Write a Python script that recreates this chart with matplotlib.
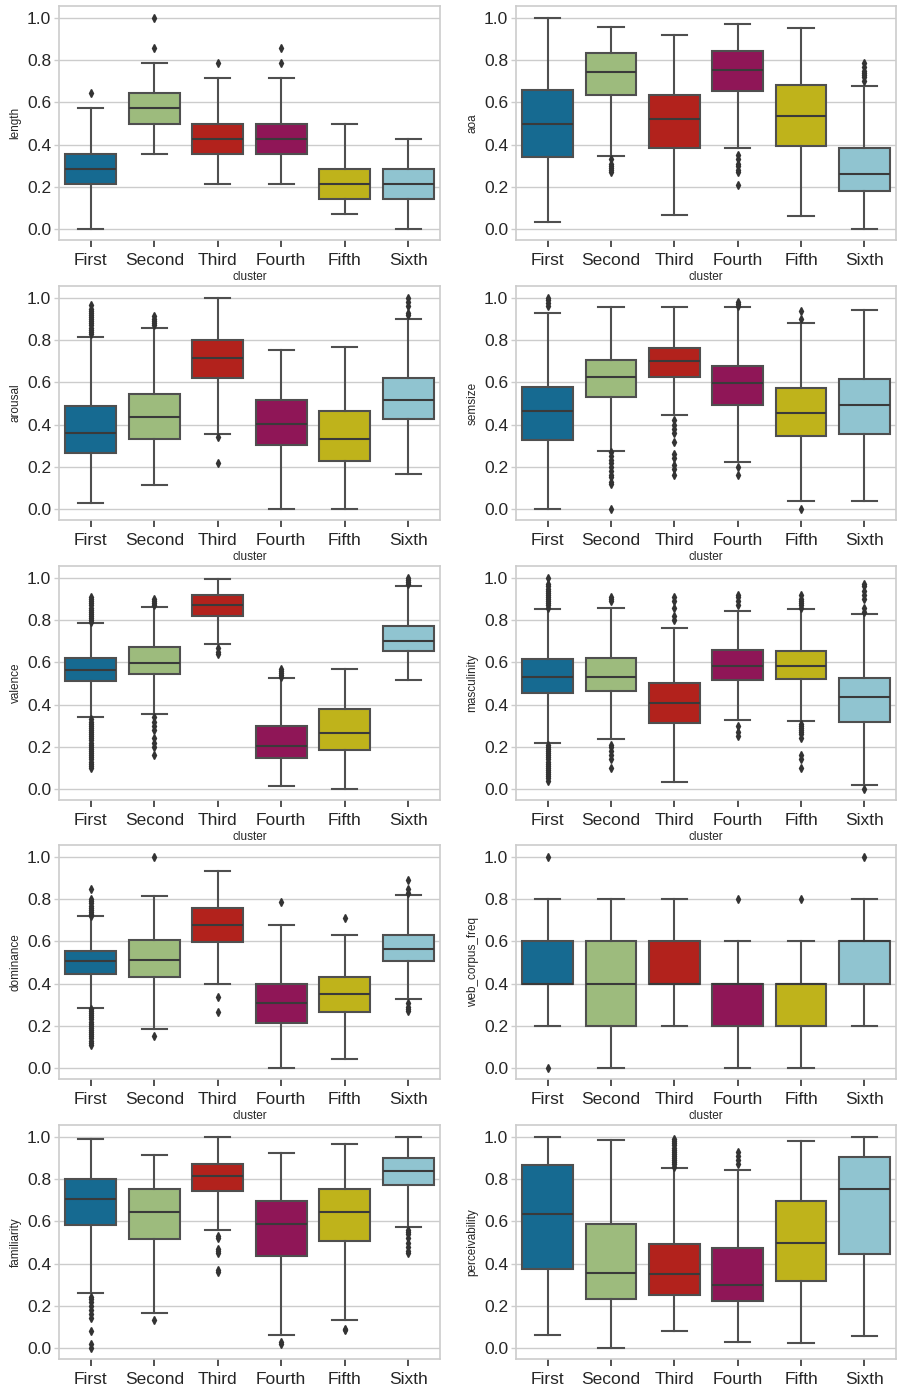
import numpy as np
import matplotlib
matplotlib.use("Agg")
import matplotlib.pyplot as plt

# clusters and colors
clusters = ["First", "Second", "Third", "Fourth", "Fifth", "Sixth"]
colors = ["#166a91", "#9dbb7d", "#b2221c", "#8f1657", "#bfb31b", "#90c4d0"]

# box stats per cluster: (whislo, q1, med, q3, whishi)
length_box = [(0.0, 0.2143, 0.2857, 0.3571, 0.5714), (0.3571, 0.5, 0.5714, 0.6429, 0.7857),
              (0.2143, 0.3571, 0.4286, 0.5, 0.7143), (0.2143, 0.3571, 0.4286, 0.5, 0.7143),
              (0.0714, 0.1429, 0.2143, 0.2857, 0.5), (0.0, 0.1429, 0.2143, 0.2857, 0.4286)]
length_fliers = [[0.6429], [0.8571, 1.0], [0.7857], [0.7857, 0.8571], [], []]

aoa_box = [(0.035, 0.343, 0.5, 0.659, 1.0), (0.348, 0.635, 0.746, 0.834, 0.959),
           (0.066, 0.385, 0.523, 0.635, 0.921), (0.385, 0.656, 0.754, 0.844, 0.972),
           (0.062, 0.392, 0.536, 0.681, 0.953), (0.0, 0.182, 0.261, 0.384, 0.678)]
aoa_fliers = [[], [0.33, 0.31, 0.30, 0.29, 0.28, 0.27],
              [], [0.35, 0.33, 0.31, 0.30, 0.28, 0.27, 0.21],
              [], [0.785, 0.77, 0.75, 0.74, 0.73, 0.72, 0.70]]

arousal_box = [(0.030, 0.266, 0.359, 0.487, 0.813), (0.113, 0.332, 0.436, 0.543, 0.860),
               (0.356, 0.619, 0.718, 0.803, 1.0), (0.0, 0.304, 0.402, 0.517, 0.756),
               (0.0, 0.227, 0.331, 0.466, 0.767), (0.167, 0.427, 0.517, 0.619, 0.902)]
arousal_fliers = [[0.83, 0.84, 0.85, 0.86, 0.87, 0.88, 0.89, 0.90, 0.91, 0.92, 0.93, 0.94, 0.95, 0.965],
                  [0.87, 0.88, 0.89, 0.90, 0.915], [0.34, 0.22], [], [],
                  [0.92, 0.93, 0.96, 0.98, 1.0]]

semsize_box = [(0.0, 0.326, 0.463, 0.576, 0.931), (0.276, 0.531, 0.625, 0.704, 0.956),
               (0.444, 0.628, 0.701, 0.765, 0.956), (0.224, 0.493, 0.597, 0.676, 0.956),
               (0.039, 0.346, 0.454, 0.572, 0.880), (0.039, 0.356, 0.493, 0.614, 0.945)]
semsize_fliers = [[0.96, 0.975, 0.99, 1.0],
                  [0.27, 0.25, 0.23, 0.22, 0.20, 0.18, 0.16, 0.15, 0.13, 0.12, 0.0],
                  [0.42, 0.40, 0.38, 0.36, 0.32, 0.26, 0.24, 0.21, 0.19, 0.16],
                  [0.20, 0.16, 0.96, 0.97, 0.98], [0.90, 0.94, 0.0], []]

valence_box = [(0.342, 0.512, 0.565, 0.619, 0.786), (0.354, 0.543, 0.597, 0.671, 0.861),
               (0.687, 0.822, 0.871, 0.918, 0.997), (0.014, 0.146, 0.205, 0.299, 0.526),
               (0.0, 0.186, 0.266, 0.378, 0.569), (0.517, 0.654, 0.701, 0.773, 0.961)]
valence_fliers = [[0.79, 0.80, 0.81, 0.82, 0.83, 0.84, 0.85, 0.86, 0.87, 0.88, 0.89, 0.90, 0.91,
                   0.33, 0.32, 0.31, 0.30, 0.29, 0.28, 0.27, 0.26, 0.25, 0.24, 0.23, 0.22,
                   0.21, 0.20, 0.19, 0.18, 0.17, 0.16, 0.15, 0.14, 0.13, 0.12, 0.11, 0.10],
                  [0.87, 0.88, 0.89, 0.90, 0.34, 0.32, 0.30, 0.28, 0.24, 0.22, 0.20, 0.16],
                  [0.67, 0.65, 0.64], [0.53, 0.54, 0.55, 0.56, 0.57], [],
                  [0.97, 0.98, 0.99, 1.0]]

masculinity_box = [(0.219, 0.454, 0.529, 0.614, 0.852), (0.238, 0.466, 0.529, 0.619, 0.857),
                   (0.035, 0.313, 0.408, 0.501, 0.765), (0.328, 0.517, 0.581, 0.657, 0.846),
                   (0.323, 0.521, 0.581, 0.654, 0.852), (0.019, 0.318, 0.436, 0.526, 0.828)]
masculinity_fliers = [[0.86, 0.87, 0.88, 0.89, 0.90, 0.91, 0.92, 0.93, 0.94, 0.95, 0.96, 0.97, 1.0,
                       0.21, 0.20, 0.19, 0.18, 0.17, 0.16, 0.15, 0.14, 0.13, 0.12, 0.11, 0.10,
                       0.09, 0.08, 0.07, 0.06, 0.05, 0.04],
                      [0.89, 0.90, 0.91, 0.21, 0.20, 0.18, 0.16, 0.14, 0.10],
                      [0.80, 0.82, 0.86, 0.89, 0.91],
                      [0.87, 0.89, 0.91, 0.92, 0.30, 0.27, 0.25],
                      [0.86, 0.87, 0.88, 0.89, 0.90, 0.92, 0.31, 0.30, 0.29, 0.28, 0.27, 0.26,
                       0.24, 0.16, 0.14, 0.10],
                      [0.84, 0.86, 0.90, 0.92, 0.94, 0.96, 0.97, 0.0]]

dominance_box = [(0.286, 0.445, 0.506, 0.555, 0.720), (0.187, 0.432, 0.513, 0.607, 0.814),
                 (0.399, 0.597, 0.678, 0.758, 0.932), (0.0, 0.215, 0.310, 0.398, 0.678),
                 (0.041, 0.264, 0.352, 0.432, 0.630), (0.329, 0.509, 0.564, 0.632, 0.819)]
dominance_fliers = [[0.72, 0.73, 0.74, 0.75, 0.76, 0.77, 0.78, 0.79, 0.80, 0.85,
                     0.28, 0.27, 0.26, 0.25, 0.24, 0.23, 0.22, 0.21, 0.20, 0.19, 0.18, 0.17,
                     0.16, 0.15, 0.14, 0.13, 0.12, 0.11],
                    [0.15, 1.0], [0.335, 0.265], [0.785], [0.712],
                    [0.83, 0.85, 0.89, 0.31, 0.29, 0.28, 0.27]]

web_box = [(0.2, 0.4, 0.4, 0.6, 0.8), (0.0, 0.2, 0.4, 0.6, 0.8),
           (0.2, 0.4, 0.4, 0.6, 0.8), (0.0, 0.2, 0.4, 0.4, 0.6),
           (0.0, 0.2, 0.4, 0.4, 0.6), (0.2, 0.4, 0.6, 0.6, 0.8)]
web_fliers = [[0.0, 1.0], [], [], [0.8], [0.8], [1.0]]

familiarity_box = [(0.262, 0.582, 0.708, 0.802, 0.992), (0.168, 0.516, 0.644, 0.752, 0.917),
                   (0.559, 0.743, 0.813, 0.870, 1.0), (0.060, 0.436, 0.586, 0.699, 0.926),
                   (0.135, 0.509, 0.645, 0.755, 0.967), (0.573, 0.772, 0.841, 0.900, 1.0)]
familiarity_fliers = [[0.24, 0.23, 0.22, 0.20, 0.18, 0.16, 0.14, 0.08, 0.02, 0.0],
                      [0.135], [0.53, 0.52, 0.47, 0.46, 0.45, 0.37, 0.36],
                      [0.03, 0.02], [0.09, 0.085],
                      [0.56, 0.55, 0.54, 0.52, 0.50, 0.48, 0.46, 0.45]]

perceivability_box = [(0.063, 0.374, 0.637, 0.868, 1.0), (0.0, 0.232, 0.355, 0.587, 0.984),
                      (0.082, 0.251, 0.350, 0.495, 0.854), (0.030, 0.221, 0.300, 0.476, 0.845),
                      (0.025, 0.320, 0.499, 0.697, 0.981), (0.058, 0.444, 0.755, 0.906, 1.0)]
perceivability_fliers = [[], [], [0.86, 0.87, 0.88, 0.89, 0.90, 0.91, 0.92, 0.93, 0.94, 0.95,
                                  0.96, 0.97, 0.98, 0.99], [0.87, 0.89, 0.91, 0.93], [], []]

panels = [("length", length_box, length_fliers), ("aoa", aoa_box, aoa_fliers),
          ("arousal", arousal_box, arousal_fliers), ("semsize", semsize_box, semsize_fliers),
          ("valence", valence_box, valence_fliers), ("masculinity", masculinity_box, masculinity_fliers),
          ("dominance", dominance_box, dominance_fliers), ("web_corpus_freq", web_box, web_fliers),
          ("familiarity", familiarity_box, familiarity_fliers),
          ("perceivability", perceivability_box, perceivability_fliers)]

plt.rcParams['font.family'] = ['Liberation Sans', 'DejaVu Sans']
gray = "#4f4f4f"

fig = plt.figure(figsize=(9.14, 13.89), dpi=100)
W, H = 914.0, 1389.0
lefts = [59, 516]
widths = [381, 380]
tops = [6, 286, 566, 845, 1125]
ax_h = 234

for i, (name, box, fliers) in enumerate(panels):
    r, c = divmod(i, 2)
    ax = fig.add_axes([lefts[c] / W, 1 - (tops[r] + ax_h) / H, widths[c] / W, ax_h / H])
    stats = []
    for b, f in zip(box, fliers):
        stats.append(dict(whislo=b[0], q1=b[1], med=b[2], q3=b[3], whishi=b[4], fliers=f))
    bp = ax.bxp(stats, positions=range(len(clusters)), widths=0.8, patch_artist=True,
                boxprops=dict(edgecolor=gray, linewidth=1.5),
                whiskerprops=dict(color=gray, linewidth=1.5),
                capprops=dict(color=gray, linewidth=1.5),
                medianprops=dict(color="#3a3a3a", linewidth=1.5),
                flierprops=dict(marker="d", markersize=4, markerfacecolor="#333333",
                                markeredgecolor="#333333", linestyle="none"))
    for patch, col in zip(bp["boxes"], colors):
        patch.set_facecolor(col)
    ax.set_xticks(range(len(clusters)))
    ax.set_xticklabels(clusters)
    ax.set_xlim(-0.5, 5.5)
    ax.set_ylim(-0.052, 1.057)
    ax.set_yticks([0.0, 0.2, 0.4, 0.6, 0.8, 1.0])
    ax.grid(axis="y", color="#cccccc", linewidth=1)
    ax.set_axisbelow(True)
    for s in ax.spines.values():
        s.set_color("#cccccc")
        s.set_linewidth(1.2)
    ax.tick_params(axis="x", length=5, width=1.2, color="#333333", labelsize=12.5,
                   labelcolor="#262626", pad=4.5)
    ax.tick_params(axis="y", length=3.5, width=1, color="#cccccc", labelsize=12.5,
                   labelcolor="#262626", pad=2)
    ax.set_ylabel(name, fontsize=8.5, color="#262626", labelpad=4)
    if r < 4:
        ax.set_xlabel("cluster", fontsize=8.5, color="#262626", labelpad=2)

fig.savefig("out.png", dpi=100)
